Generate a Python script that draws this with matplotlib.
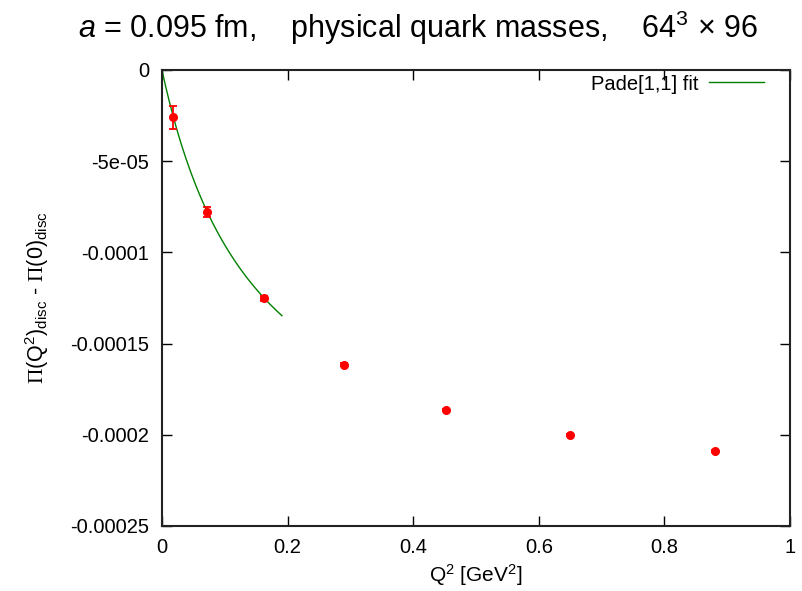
import numpy as np
import matplotlib
matplotlib.use("Agg")
import matplotlib.pyplot as plt

plt.rcParams["font.family"] = ["Liberation Sans", "DejaVu Sans"]
plt.rcParams["mathtext.fontset"] = "custom"
plt.rcParams["mathtext.rm"] = "Liberation Serif"
plt.rcParams["mathtext.sf"] = "Liberation Sans"
plt.rcParams["mathtext.it"] = "Liberation Sans:italic"

# disconnected contribution, Q^2 in GeV^2
q2 = [0.018, 0.072, 0.163, 0.290, 0.452, 0.649, 0.880]
pi_disc = [-2.59e-5, -7.77e-5, -1.252e-4, -1.615e-4, -1.865e-4, -2.0e-4, -2.09e-4]
pi_err = [6.4e-6, 2.7e-6, 1.5e-6, 6e-7, 5e-7, 4e-7, 4e-7]

# Pade[1,1]: Pi(Q^2) - Pi(0) = -A Q^2 / (1 + B Q^2)
pade_A = 1.589e-3
pade_B = 6.56
fit_qmax = 0.191

fig = plt.figure(figsize=(8.03, 5.91), dpi=100)
ax = fig.add_axes([0.2017, 0.11, 0.7821, 0.7716])

xf = np.linspace(0, fit_qmax, 200)
ax.plot(xf, -pade_A * xf / (1 + pade_B * xf), color="#008000", lw=1.0,
        label="Pade[1,1] fit")
ax.errorbar(q2, pi_disc, yerr=pi_err, fmt="o", color="red", ms=5.5,
            elinewidth=1.3, capsize=2.6, capthick=1.3, zorder=3)

ax.set_xlim(0, 1)
ax.set_ylim(-0.00025, 0)
ax.set_xticks([0, 0.2, 0.4, 0.6, 0.8, 1])
ax.set_xticklabels(["0", "0.2", "0.4", "0.6", "0.8", "1"])
ax.set_yticks([0, -5e-5, -1e-4, -1.5e-4, -2e-4, -2.5e-4])
ax.set_yticklabels(["0", "-5e-05", "-0.0001", "-0.00015", "-0.0002", "-0.00025"])
ax.tick_params(direction="in", top=True, right=True, length=7, width=1,
               labelsize=14.5, pad=9)
for s in ax.spines.values():
    s.set_linewidth(1.5)
    s.set_color("#222222")

ax.set_xlabel(r"Q$^{\mathsf{2}}$ [GeV$^{\mathsf{2}}$]", fontsize=15, labelpad=3)
ax.set_ylabel(r"$\Pi$(Q$^{\mathsf{2}}$)$_{\mathsf{disc}}$ - $\Pi$(0)$_{\mathsf{disc}}$",
              fontsize=15.5, labelpad=14)

fig.text(0.52, 0.953,
         r"$a$ = 0.095 fm,    physical quark masses,    64$^{\mathsf{3}}$ × 96",
         ha="center", va="center", fontsize=22)

ax.legend(loc="upper right", bbox_to_anchor=(0.958, 0.99), frameon=False,
          fontsize=14.5, handlelength=2.7, handletextpad=0.55,
          markerfirst=False, borderpad=0, borderaxespad=0)

fig.savefig("out.png", dpi=100)
